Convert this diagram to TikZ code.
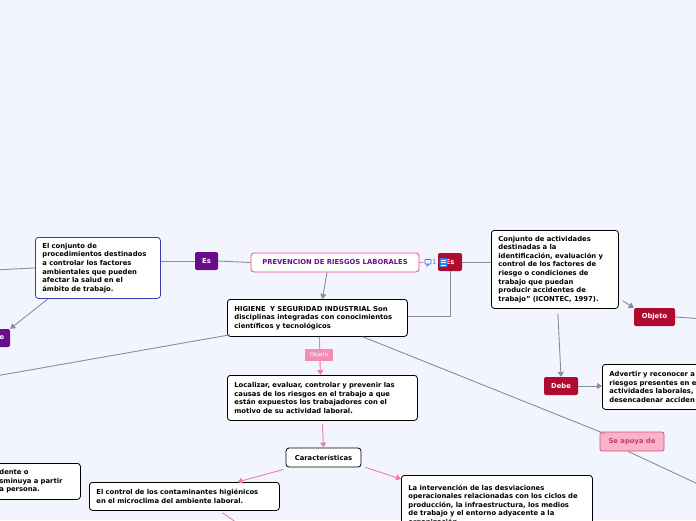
\documentclass[tikz,border=0pt]{standalone}
\usepackage{fontspec}
\setmainfont{DejaVu Sans}
\usepackage{tikz}
\usetikzlibrary{arrows.meta}
\definecolor{bgc}{HTML}{F3F5FE}
\definecolor{purp}{HTML}{6A0D8A}
\definecolor{crim}{HTML}{B00B2F}
\definecolor{lnk}{HTML}{8C8C94}
\definecolor{pnk}{HTML}{F07AA8}
\definecolor{pnkbd}{HTML}{E5497F}
\definecolor{pnkfill}{HTML}{F8B4CB}
\definecolor{blueb}{HTML}{3B3BB5}
\definecolor{icn}{HTML}{2F80ED}
\newcommand{\boxfont}{\fontsize{6.8}{8.6}\selectfont\bfseries}

\begin{document}
\begin{tikzpicture}[x=1pt, y=-1pt,
  box/.style={draw=black, fill=white, rounded corners=3pt, line width=0.8pt, font=\boxfont, align=left, anchor=north west, inner xsep=7pt, inner ysep=3pt},
  tag/.style={rounded corners=2pt, text=white, font=\boxfont, minimum height=18pt, inner xsep=3pt, inner ysep=0pt},
  gline/.style={draw=lnk, line width=0.9pt},
  garrow/.style={gline, -{Triangle[length=5pt,width=6pt]}},
  parrow/.style={draw=pnk, line width=0.9pt, -{Triangle[length=5pt,width=6pt]}}]
  \useasboundingbox (0,0) rectangle (696,520);
  \fill[bgc] (0,0) rectangle (696,520);
  \clip (0,0) rectangle (696,520);

  % nodes
  \node[box, draw=pnkbd, text=purp, minimum width=168pt, minimum height=19pt, align=center, anchor=center] (prev) at (335,262.5) {PREVENCION DE RIESGOS LABORALES};
  \node[tag, fill=purp, minimum width=23pt] (esP) at (206.5,261) {Es};
  \node[box, draw=blueb, text width=111pt, minimum height=61pt] (defin) at (35,237) {El conjunto de\\procedimientos destinados\\a controlar los factores\\ambientales que pueden\\afectar la salud en el\\ámbito de trabajo.};
  \node[tag, fill=purp, minimum width=22pt, align=right] (leftP) at (-1,338) {\hspace*{6pt}e};
  \node[box, text width=166pt, minimum height=37pt] (hig) at (227,299) {HIGIENE\ \ Y SEGURIDAD INDUSTRIAL Son\\disciplinas integradas con conocimientos\\científicos y tecnológicos};
  \node[tag, fill=crim, minimum width=24pt] (esR) at (450,262) {Es};
  \node[box, text width=113pt, minimum height=78pt] (conj) at (491,230) {Conjunto de actividades\\destinadas a la\\identificación, evaluación y\\control de los factores de\\riesgo o condiciones de\\trabajo que puedan\\producir accidentes de\\trabajo” (ICONTEC, 1997).};
  \node[tag, fill=crim, minimum width=41pt] (objR) at (654.5,317) {Objeto};
  \node[tag, fill=crim, minimum width=34pt] (debe) at (561,386) {Debe};
  \node[box, text width=110pt, minimum height=45pt] (adv) at (602,364) {Advertir y reconocer a\\riesgos presentes en e\\actividades laborales,\\desencadenar acciden};
  \node[box, text width=176pt, minimum height=45pt] (loc) at (227,375) {Localizar, evaluar, controlar y prevenir las\\causas de los riesgos en el trabajo a que\\están expuestos los trabajadores con el\\motivo de su actividad laboral.};
  \node[box, minimum width=75pt, minimum height=19pt, align=center, anchor=center] (car) at (323.5,457.5) {Características};
  \node[box, text width=176pt, minimum height=28pt] (ctrl) at (89,482) {El control de los contaminantes higiénicos\\en el microclima del ambiente laboral.};
  \node[box, text width=177pt, minimum height=60pt, anchor=north west] (interv) at (401,475) {La intervención de las desviaciones\\operacionales relacionadas con los ciclos de\\producción, la infraestructura, los medios\\de trabajo y el entorno adyacente a la\\organización.};
  \node[box, text width=74pt, minimum height=36pt] (lbot) at (-8,463) {dente o\\sminuya a partir\\a persona.};
  \node[tag, draw=pnkbd, fill=pnkfill, text=pnkbd!85!black, minimum width=64pt, minimum height=19pt, line width=0.7pt] (seap) at (632,441.5) {Se apoya de};

  % connectors
  \coordinate (offL) at (-5,270);
  \coordinate (offLB) at (-10,377);
  \coordinate (offR) at (705,319);
  \coordinate (offRB) at (715,492);
  \coordinate (offB) at (240,525);
  \draw[gline] (defin.west) -- (offL);
  \draw[gline] (esP.west) -- (esP.west -| defin.east);
  \draw[gline] (prev.west) -- (esP.east);
  \draw[garrow] ([xshift=13pt]defin.south west) -- (leftP.north east);
  \draw[garrow] ([xshift=-8pt]prev.south) -- ([xshift=5pt]hig.north);
  \draw[gline] (esR.south) |- ([yshift=1pt]hig.east);
  \draw[gline] (esR.east) -- (esR.east -| conj.west);
  \draw[garrow] ([xshift=4pt,yshift=8pt]conj.south east) -- (objR.north west);
  \draw[gline] (objR.east) -- (offR);
  \draw[garrow] ([xshift=3pt,yshift=-5pt]conj.south) -- (debe.north);
  \draw[garrow] (debe.east) -- (debe.east -| adv.west);
  \draw[gline] ([xshift=3pt,yshift=2pt]hig.south west) -- (offLB);
  \draw[gline] ([xshift=-45pt]hig.south east) -- ([xshift=5pt,yshift=-2pt]seap.north west);
  \draw[gline] ([xshift=-4pt]seap.south) -- (offRB);
  \draw[parrow] ([xshift=2pt]hig.south) -- ([xshift=-2pt]loc.north);
  \node[fill=pnk!85, text=white, font=\fontsize{5.6}{6}\selectfont, minimum width=28pt, minimum height=12pt, inner sep=0pt] (objP) at (319,355) {Objeto};
  \draw[parrow] ([xshift=0pt,yshift=-3pt]loc.south) -- (car.north);
  \draw[parrow] ([xshift=-2pt,yshift=-2pt]car.south west) -- ([xshift=53pt]ctrl.north);
  \draw[parrow] ([xshift=4pt]car.south east) -- ([yshift=-4pt]interv.north west);
  \draw[draw=pnk, line width=0.9pt] ([xshift=38pt,yshift=-2pt]ctrl.south) -- (offB);

  % icons on the right Es
  \draw[pnk, line width=0.7pt] (prev.east) -- (423,262.5);
  \draw[icn, line width=0.8pt, rounded corners=0.5pt] (425,259.5) rectangle (431,264);
  \draw[icn, line width=0.8pt] (427,264) -- (427,266) -- (429,264);
  \node[text=icn, font=\fontsize{6.5}{7}\selectfont, inner sep=0pt] (cnum) at (434.5,262) {1};
  \node[fill=icn, rounded corners=1pt, minimum width=8pt, minimum height=9pt, inner sep=0pt] (list) at (443.5,262.5) {};
  \foreach \yy in {260,262.5,265} \draw[white, line width=0.7pt] (441,\yy) -- (446,\yy);
\end{tikzpicture}
\end{document}
